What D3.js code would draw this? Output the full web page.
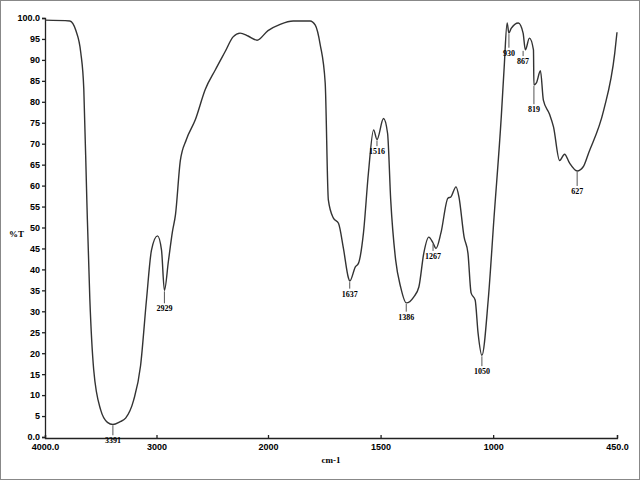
<!DOCTYPE html>
<html>
<head>
<meta charset="utf-8">
<script src="https://cdn.jsdelivr.net/npm/d3@7"></script>
<style>
body { margin: 0; background: #fff; }
svg { display: block; font-family: "Liberation Serif", "DejaVu Serif", serif; }
</style>
</head>
<body>
<svg id="chart" width="640" height="480"></svg>
<script>
// spectrum: wavenumber (cm-1) and %T
var wavenumber = [4000, 3777, 3723, 3679, 3652, 3625, 3598, 3563, 3500, 3440, 3391, 3330, 3277, 3205, 3143, 3089, 3045, 2991, 2955, 2929, 2893, 2857, 2830, 2786, 2732, 2652, 2562, 2473, 2384, 2313, 2250, 2179, 2098, 2000, 1946, 1888, 1813, 1790, 1768, 1746, 1732, 1710, 1687, 1665, 1643, 1637, 1612, 1598, 1576, 1554, 1531, 1516, 1487, 1469, 1455, 1433, 1411, 1386, 1353, 1330, 1308, 1286, 1267, 1254, 1232, 1201, 1188, 1165, 1152, 1129, 1112, 1098, 1080, 1067, 1050, 1022, 996, 964, 951, 938, 930, 920, 888, 867, 857, 839, 821, 819, 808, 790, 777, 750, 732, 705, 683, 661, 627, 600, 576, 509, 460, 450];
var transmittance = [99.5, 99.3, 97, 91.7, 83, 56.6, 33, 16, 6.4, 3.5, 3, 3.6, 4.5, 8.8, 17, 33, 44.6, 48, 44.6, 35, 42, 49, 53, 66, 71, 75.7, 83, 87.6, 92, 95.5, 96.4, 95.7, 94.7, 97, 98.5, 99.3, 99.3, 98.3, 93.6, 84.5, 56.6, 52.3, 51, 45, 38, 37.2, 40.6, 41.5, 48.7, 63, 73.3, 71, 76, 72.5, 56.6, 42.2, 35.8, 32, 33.4, 35.8, 43.9, 47.7, 46.3, 45, 48.7, 57, 57.3, 59.7, 57.3, 47.7, 43.9, 34.4, 32.7, 24.8, 19.5, 32.7, 52.5, 76.4, 88.3, 98.8, 96.4, 97.5, 98.8, 96.4, 92.4, 95.2, 92.4, 84, 84.5, 87.4, 80.4, 77.1, 74, 66, 67.5, 65.4, 63.5, 64.5, 67.8, 78, 91.6, 96.6];

var peakLabels = ["3391", "2929", "1637", "1516", "1386", "1267", "1050", "930", "867", "819", "627"];
var peakWn = [3391, 2929, 1637, 1516, 1386, 1267, 1050, 930, 867, 819, 627];
var peakT = [3, 35, 37.2, 71, 32, 46.3, 19.5, 96.4, 92.4, 84, 63.5];
var peakLabelT = [-1.5, 30, 33.5, 67.5, 28, 42.5, 15, 91, 89, 77.5, 58];

var xTicks = [4000, 3000, 2000, 1500, 1000, 450];
var xTickLabels = ["4000.0", "3000", "2000", "1500", "1000", "450.0"];
var yTicks = [0, 5, 10, 15, 20, 25, 30, 35, 40, 45, 50, 55, 60, 65, 70, 75, 80, 85, 90, 95, 100];

var svg = d3.select("#chart");

svg.append("rect").attr("x", 0.5).attr("y", 0.5).attr("width", 639).attr("height", 479)
	.attr("fill", "none").attr("stroke", "#888").attr("stroke-width", 1);

// the x axis changes scale at 2000 cm-1
var x = d3.scaleLinear().domain([4000, 2000, 450]).range([45, 268, 617]);
var y = d3.scaleLinear().domain([0, 100]).range([437, 18]);

var yAxis = d3.axisLeft(y).tickValues(yTicks).tickSize(3)
	.tickFormat(function (d) { return (d === 0 || d === 100) ? d.toFixed(1) : d; });
var gy = svg.append("g").attr("transform", "translate(45,0)").call(yAxis);
gy.selectAll("text").attr("font-size", 9).attr("font-weight", "bold").attr("dx", 1);

var xAxis = d3.axisBottom(x).tickValues(xTicks).tickSize(-3)
	.tickFormat(function (d, i) { return xTickLabels[i]; });
var gx = svg.append("g").attr("transform", "translate(0,438)").call(xAxis);
gx.selectAll("text").attr("font-size", 9).attr("font-weight", "bold").attr("dy", 9);

svg.selectAll(".domain, .tick line").attr("stroke", "#222").attr("stroke-width", 1.3);

svg.append("text").attr("x", 9).attr("y", 237).attr("font-size", 9).attr("font-weight", "bold").text("%T");
svg.append("text").attr("x", 331).attr("y", 463).attr("font-size", 9).attr("font-weight", "bold")
	.attr("text-anchor", "middle").text("cm-1");

var points = wavenumber.map(function (w, i) { return [w, transmittance[i]]; });
var line = d3.line().x(function (d) { return x(d[0]); }).y(function (d) { return y(d[1]); })
	.curve(d3.curveMonotoneX);
svg.append("path").datum(points.slice().reverse()).attr("d", line)
	.attr("fill", "none").attr("stroke", "#333").attr("stroke-width", 1.4);

// peak markers
var pk = svg.append("g");
peakLabels.forEach(function (lab, i) {
	var px = x(peakWn[i]);
	pk.append("line").attr("x1", px).attr("x2", px)
		.attr("y1", y(peakT[i]) + 1).attr("y2", y(peakLabelT[i]) - 8)
		.attr("stroke", "#555").attr("stroke-width", 1);
	pk.append("text").attr("x", px).attr("y", y(peakLabelT[i]))
		.attr("text-anchor", "middle").attr("font-size", 8).attr("font-weight", "bold").text(lab);
});
</script>
</body>
</html>
